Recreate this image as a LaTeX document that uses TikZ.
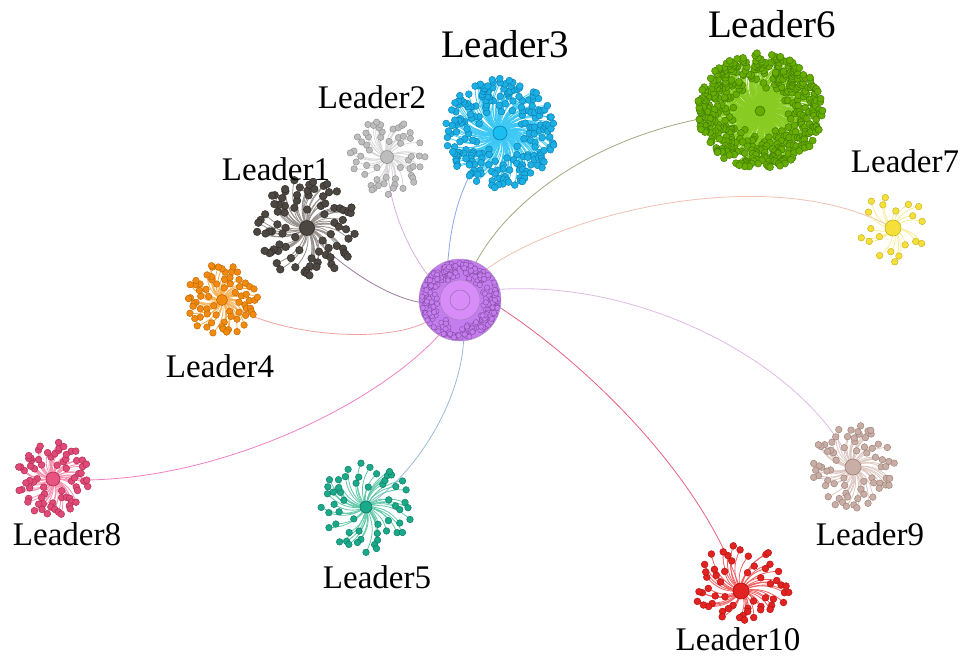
\documentclass[tikz,border=0pt]{standalone}
\usepackage{fontspec}
\setmainfont{Liberation Serif}
\definecolor{hubfill}{HTML}{C47CEE}
\definecolor{hubdraw}{HTML}{7E4A9E}
\definecolor{hubin}{HTML}{D88CF8}
\tikzset{
  spoke/.style={line width=0.8pt},
  leaf/.style={line width=0.45pt},
  edge/.style={line width=0.8pt},
  lab/.style={anchor=base, inner sep=0pt, font=\fontsize{33}{36}\selectfont},
  biglab/.style={anchor=base, inner sep=0pt, font=\fontsize{39}{42}\selectfont},
  ctr/.style={circle, inner sep=0pt, line width=0.6pt}
}
\def\xsq{1}
\def\ysqd{1}
% #1 coord, #2 R, #3 N, #4 rmin, #5 leaf r, #6 fill, #7 draw, #8 spoke colour, #9 seed
\newcommand\leafpos[3]{%
  \pgfmathsetmacro\ang{360*frac(#1*0.381966)+30*(rnd-0.5)}%
  \pgfmathsetmacro\rad{#3+(#2-#3)*sqrt((#1-rnd)/\nleaf)}%
  \pgfmathsetmacro\px{\xsq*\rad*cos(\ang)}%
  \pgfmathsetmacro\py{\rad*sin(\ang)*(sin(\ang)>0 ? \ysqd : 1)}%
}
\newcommand\leafcluster[9]{%
  \def\nleaf{#3}%
  \pgfmathsetseed{#9}%
  \foreach \i in {1,...,#3}{%
    \leafpos{\i}{#2}{#4}%
    \draw[spoke,draw=#8,shift={(#1)}] (0,0) to[bend left=28] (\px,\py);
  }%
  \pgfmathsetseed{#9}%
  \foreach \i in {1,...,#3}{%
    \leafpos{\i}{#2}{#4}%
    \filldraw[leaf,fill=#6,draw=#7,shift={(#1)}] (\px,\py) circle[radius=#5pt];
  }%
}
\begin{document}
\begin{tikzpicture}[x=1pt,y=-1pt]
\useasboundingbox (0,0) rectangle (969,657);
% cluster centres
\coordinate (c0) at (460,300);
\coordinate (c1) at (307,228);
\coordinate (c2) at (387,157);
\coordinate (c3) at (500,133);
\coordinate (c4) at (222,300);
\coordinate (c5) at (366,507);
\coordinate (c6) at (760,111);
\coordinate (c7) at (893,228);
\coordinate (c8) at (53,479);
\coordinate (c9) at (853,467);
\coordinate (c10) at (741,591);
% hub
\node[circle, minimum size=82pt, inner sep=0pt] (hub) at (c0) {};
% edges
\draw[edge, draw={rgb,255:red,154;green,122;blue,160}] (hub.183) .. controls (380,295) and (325,255) .. (c1);
\draw[edge, draw={rgb,255:red,216;green,176;blue,224}] (hub.142) .. controls (405,245) and (387,200) .. (c2);
\draw[edge, draw={rgb,255:red,136;green,170;blue,238}] (hub.107) .. controls (452,210) and (465,170) .. (c3);
\draw[edge, draw={rgb,255:red,240;green,160;blue,160}] (hub.213) .. controls (380,345) and (270,335) .. (c4);
\draw[edge, draw={rgb,255:red,154;green,184;blue,221}] (hub.275) .. controls (460,400) and (420,470) .. (c5);
\draw[edge, draw={rgb,255:red,160;green,168;blue,128}] (hub.67) .. controls (515,190) and (620,120) .. (c6);
\draw[edge, draw={rgb,255:red,240;green,192;blue,176}] (hub.49) .. controls (560,215) and (770,160) .. (c7);
\draw[edge, draw={rgb,255:red,240;green,128;blue,192}] (hub.239) .. controls (370,410) and (200,490) .. (c8);
\draw[edge, draw={rgb,255:red,224;green,184;blue,232}] (hub.15) .. controls (650,280) and (810,370) .. (c9);
\draw[edge, draw={rgb,255:red,232;green,96;blue,128}] (hub.349) .. controls (580,360) and (700,470) .. (c10);
% hub drawing
\fill[hubfill] (c0) circle[radius=41pt];
\pgfmathsetseed{77}
\foreach \i in {1,...,300}{%
  \pgfmathsetmacro\ang{360*rnd}%
  \pgfmathsetmacro\rad{21+17.5*sqrt(rnd)}%
  \filldraw[fill=hubfill, draw=hubdraw, line width=0.35pt, shift={(c0)}] (\ang:\rad) circle[radius=2.7pt];
}
\draw[hubdraw!60, line width=0.5pt] (c0) circle[radius=41pt];
\filldraw[fill=hubin, draw=hubdraw!70, line width=0.5pt] (c0) circle[radius=20pt];
\draw[hubdraw!80, line width=0.5pt] (c0) circle[radius=10pt];
% clusters
\leafcluster{c1}{50}{85}{14}{3.8}{{rgb,255:red,77;green,71;blue,66}}{{rgb,255:red,46;green,42;blue,39}}{{rgb,255:red,150;green,145;blue,142}}{11}
\node[ctr, minimum size=15pt, fill={rgb,255:red,77;green,71;blue,66}, draw={rgb,255:red,46;green,42;blue,39}] (L1) at (c1) {};
\leafcluster{c2}{38}{55}{12}{3.2}{{rgb,255:red,189;green,189;blue,189}}{{rgb,255:red,143;green,143;blue,143}}{{rgb,255:red,216;green,216;blue,216}}{12}
\node[ctr, minimum size=13pt, fill={rgb,255:red,189;green,189;blue,189}, draw={rgb,255:red,143;green,143;blue,143}] (L2) at (c2) {};
\leafcluster{c3}{55}{220}{18}{3.4}{{rgb,255:red,26;green,176;blue,230}}{{rgb,255:red,11;green,127;blue,174}}{{rgb,255:red,60;green,200;blue,245}}{13}
\node[ctr, minimum size=14pt, fill={rgb,255:red,26;green,190;blue,240}, draw={rgb,255:red,11;green,127;blue,174}] (L3) at (c3) {};
\leafcluster{c4}{36}{70}{8}{3.3}{{rgb,255:red,242;green,138;blue,15}}{{rgb,255:red,192;green,104;blue,0}}{{rgb,255:red,248;green,176;blue,80}}{14}
\node[ctr, minimum size=11pt, fill={rgb,255:red,242;green,138;blue,15}, draw={rgb,255:red,192;green,104;blue,0}] (L4) at (c4) {};
\leafcluster{c5}{46}{55}{15}{3.3}{{rgb,255:red,26;green,169;blue,138}}{{rgb,255:red,12;green,122;blue,98}}{{rgb,255:red,96;green,200;blue,168}}{15}
\node[ctr, minimum size=12pt, fill={rgb,255:red,26;green,169;blue,138}, draw={rgb,255:red,12;green,122;blue,98}] (L5) at (c5) {};
\def\xsq{1.08}
\leafcluster{c6}{58}{470}{22}{3.5}{{rgb,255:red,102;green,173;blue,0}}{{rgb,255:red,63;green,122;blue,0}}{{rgb,255:red,136;green,204;blue,34}}{16}
\def\xsq{1}
\node[ctr, minimum size=10pt, fill={rgb,255:red,102;green,173;blue,0}, draw={rgb,255:red,63;green,122;blue,0}] (L6) at (c6) {};
\leafcluster{c7}{35}{20}{12}{3.3}{{rgb,255:red,245;green,224;blue,58}}{{rgb,255:red,200;green,176;blue,32}}{{rgb,255:red,248;green,236;blue,144}}{17}
\node[ctr, minimum size=16pt, fill={rgb,255:red,245;green,224;blue,58}, draw={rgb,255:red,200;green,176;blue,32}] (L7) at (c7) {};
\leafcluster{c8}{37}{70}{10}{3.4}{{rgb,255:red,224;green,74;blue,120}}{{rgb,255:red,176;green,40;blue,80}}{{rgb,255:red,248;green,144;blue,176}}{18}
\node[ctr, minimum size=14pt, fill={rgb,255:red,232;green,84;blue,130}, draw={rgb,255:red,176;green,40;blue,80}] (L8) at (c8) {};
\leafcluster{c9}{42}{70}{12}{3.3}{{rgb,255:red,201;green,174;blue,166}}{{rgb,255:red,156;green,128;blue,120}}{{rgb,255:red,220;green,200;blue,192}}{19}
\node[ctr, minimum size=16pt, fill={rgb,255:red,201;green,174;blue,166}, draw={rgb,255:red,156;green,128;blue,120}] (L9) at (c9) {};
\def\ysqd{0.62}
\leafcluster{c10}{48}{55}{14}{3.4}{{rgb,255:red,227;green,34;blue,34}}{{rgb,255:red,176;green,16;blue,16}}{{rgb,255:red,240;green,96;blue,96}}{20}
\def\ysqd{1}
\node[ctr, minimum size=16pt, fill={rgb,255:red,227;green,34;blue,34}, draw={rgb,255:red,176;green,16;blue,16}] (L10) at (c10) {};
% labels
\node[lab] (t1) at (276,180) {Leader1};
\node[lab] (t2) at (372,108) {Leader2};
\node[biglab] (t3) at (505,57) {Leader3};
\node[lab] (t4) at (220,377) {Leader4};
\node[lab] (t5) at (377,588) {Leader5};
\node[biglab] (t6) at (772,37) {Leader6};
\node[lab] (t7) at (905,172) {Leader7};
\node[lab] (t8) at (67,545) {Leader8};
\node[lab] (t9) at (870,545) {Leader9};
\node[lab] (t10) at (738,650) {Leader10};
\end{tikzpicture}
\end{document}
